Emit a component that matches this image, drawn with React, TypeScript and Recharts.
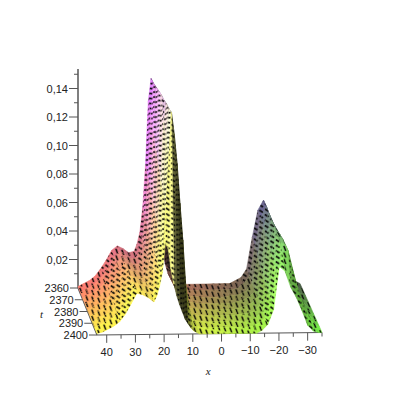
import React from 'react';
import { ScatterChart, Scatter, XAxis, YAxis, ReferenceLine } from 'recharts';

// x columns (denser around the tall ridge)
const xValues = [
  44, 42, 40, 38, 36, 34, 32, 30, 28, 26, 24,
  23, 22, 21, 20, 19, 18, 17, 16, 15, 14, 13, 12, 11, 10,
  8, 6, 4, 2, 0, -2, -4, -6, -8, -10, -12, -14, -16, -18, -20, -22, -24, -26, -28, -30, -32, -34, -35,
];

// surface height per t row, in thousandths
const z2360 = [1, 3, 5, 8, 13, 19, 26, 29, 27, 24, 25, 30, 38, 55, 85, 130, 146, 122, 85, 50, 28, 16, 9, 5, 3, 1, 1, 1, 1, 1, 1, 1, 1, 1, 1, 3, 5, 11, 33, 52, 59, 47, 30, 17, 8, 3, 1, 0];
const z2365 = [1, 3, 5, 8, 12, 18, 25, 29, 27, 24, 24, 29, 37, 52, 80, 122, 146, 127, 90, 55, 31, 18, 10, 6, 3, 1, 1, 1, 1, 1, 1, 1, 1, 1, 1, 2, 5, 10, 30, 50, 59, 48, 31, 18, 8, 3, 1, 0];
const z2370 = [1, 3, 5, 8, 12, 18, 25, 29, 27, 24, 24, 28, 35, 49, 75, 115, 147, 132, 95, 60, 34, 20, 11, 6, 3, 1, 1, 1, 0, 0, 0, 0, 0, 1, 1, 2, 4, 9, 27, 48, 58, 49, 32, 19, 9, 3, 1, 0];
const z2375 = [1, 3, 5, 8, 12, 17, 24, 29, 27, 24, 23, 27, 33, 46, 70, 107, 148, 138, 100, 65, 38, 22, 12, 7, 4, 1, 1, 0, 0, 0, 0, 0, 0, 0, 1, 2, 4, 8, 24, 46, 57, 50, 34, 20, 9, 3, 1, 0];
const z2380 = [1, 3, 5, 7, 11, 17, 24, 29, 27, 24, 23, 27, 32, 44, 65, 100, 149, 145, 106, 70, 42, 25, 14, 8, 4, 1, 1, 0, 0, 0, 0, 0, 0, 0, 1, 2, 4, 8, 22, 44, 56, 51, 36, 21, 10, 4, 1, 0];
const z2385 = [1, 3, 5, 7, 11, 16, 23, 28, 27, 24, 23, 26, 31, 42, 61, 93, 133, 146, 112, 76, 47, 28, 16, 9, 5, 1, 0, 0, 0, 0, 0, 0, 0, 0, 1, 1, 3, 7, 20, 42, 55, 52, 37, 22, 10, 4, 1, 0];
const z2390 = [1, 3, 5, 7, 11, 16, 23, 28, 27, 24, 23, 26, 30, 40, 57, 87, 125, 146, 120, 84, 52, 32, 18, 10, 5, 1, 0, 0, 0, 0, 0, 0, 0, 0, 0, 1, 3, 7, 19, 40, 54, 52, 38, 23, 11, 4, 1, 0];
const z2395 = [1, 3, 5, 7, 10, 15, 22, 28, 27, 24, 22, 25, 29, 38, 53, 80, 115, 147, 132, 112, 85, 60, 30, 15, 7, 1, 0, 0, 0, 0, 0, 0, 0, 0, 0, 1, 3, 6, 18, 36, 50, 52, 36, 22, 11, 4, 1, 0];
const z2400 = [1, 2, 4, 6, 9, 14, 21, 28, 27, 25, 22, 26, 33, 42, 62, 58, 44, 34, 26, 20, 15, 10, 7, 4, 2, 0, 0, 0, 0, 0, 0, 0, 0, 0, 0, 0, 2, 6, 16, 45, 42, 31, 24, 15, 5, 1, 0, 0];

const tValues = [2360, 2365, 2370, 2375, 2380, 2385, 2390, 2395, 2400];
const zRows = [z2360, z2365, z2370, z2375, z2380, z2385, z2390, z2395, z2400];

const xTicks = [40, 35, 30, 25, 20, 15, 10, 5, 0, -5, -10, -15, -20, -25, -30, -35];
const zTicks = [0.01, 0.02, 0.03, 0.04, 0.05, 0.06, 0.07, 0.08, 0.09, 0.1, 0.11, 0.12, 0.13, 0.14, 0.15];
const tTicks = [2360, 2370, 2380, 2390, 2400];

const SIZE = 400;
const X_AXIS_H = 40;
const Y_AXIS_W = 40;
const margin = { top: 69, right: 78, bottom: 25, left: 38 };
const plotW = SIZE - margin.left - margin.right - Y_AXIS_W;
const plotH = SIZE - margin.top - margin.bottom - X_AXIS_H;
const xDomain: [number, number] = [-35, 50];
const zDomain: [number, number] = [-47 / 1425, 219 / 1425];
const pxPerX = plotW / (xDomain[1] - xDomain[0]);
const pxPerZ = plotH / (zDomain[1] - zDomain[0]);

const lerp = (a: number, b: number, f: number) => a + (b - a) * f;

// view of the box: far edge is shorter than the near edge
function project(x: number, t: number, z: number) {
  const f = (t - 2360) / 40;
  const w = (44 - x) / 79;
  const px = lerp(lerp(78, 97, f), lerp(300, 322, f), w);
  const py = lerp(288, 335, f) - w * lerp(4.5, 2.5, f) - z * lerp(1425, 1475, f);
  return { sx: xDomain[1] - (px - 78) / pxPerX, sz: (288 - py) / pxPerZ };
}

function quadColor(x: number, t: number, z: number, slope: number) {
  const xn = (x + 35) / 79;
  const tn = (t - 2360) / 40;
  let r = 70 + 185 * xn + 50 * tn;
  let g = 85 + 165 * tn + 30 * xn * (1 - tn);
  let b = 70 + (z / 0.15) * 180 * (1 - 0.4 * tn) + 40 * xn * (1 - tn);
  const m = slope > 0 ? Math.max(0.25, 1 - slope * 50) : 1 + Math.min(0.2, -slope * 8);
  r = Math.min(255, r * m);
  g = Math.min(255, g * m);
  b = Math.min(255, b * m);
  return `rgb(${Math.round(r)},${Math.round(g)},${Math.round(b)})`;
}

// the dashes of the mesh lean over as the surface gets steeper
function meshPattern(slope: number) {
  const s = Math.abs(slope);
  if (s < 0.0025) return 'url(#meshFlat)';
  if (s < 0.012) return 'url(#meshMid)';
  return 'url(#meshSteep)';
}

const rowPoints = zRows.map((row, i) => row.map((z, j) => project(xValues[j], tValues[i], z / 1000)));

// one point per mesh cell, low x first so the near flank paints last
const cellRows = tValues.slice(0, -1).map((t, i) => {
  const cells = [];
  for (let j = xValues.length - 2; j >= 0; j--) {
    const a = zRows[i][j] / 1000;
    const b = zRows[i][j + 1] / 1000;
    const c = zRows[i + 1][j + 1] / 1000;
    const d = zRows[i + 1][j] / 1000;
    const slope = ((a + d - b - c) / 2) / (xValues[j] - xValues[j + 1]);
    cells.push({
      ...rowPoints[i][j],
      corners: [rowPoints[i][j], rowPoints[i][j + 1], rowPoints[i + 1][j + 1], rowPoints[i + 1][j]],
      fill: quadColor((xValues[j] + xValues[j + 1]) / 2, t + 2.5, (a + b + c + d) / 4, slope),
      mesh: meshPattern(slope),
    });
  }
  return cells;
});

const CellShape = (props: any) => {
  const { cx, cy, payload } = props;
  const pts = payload.corners
    .map((c: any) => `${cx - (c.sx - payload.sx) * pxPerX},${cy - (c.sz - payload.sz) * pxPerZ}`)
    .join(' ');
  return (
    <g>
      <polygon points={pts} fill={payload.fill} stroke={payload.fill} strokeWidth={0.6} />
      <polygon points={pts} fill={payload.mesh} />
    </g>
  );
};

const MeshDefs = () => (
  <defs>
    <pattern id="meshFlat" patternUnits="userSpaceOnUse" width="6" height="6.5" patternTransform="skewY(10)">
      <line x1="1.8" y1="0.8" x2="3.8" y2="5.6" stroke="#050505" strokeWidth="1.6" />
    </pattern>
    <pattern id="meshMid" patternUnits="userSpaceOnUse" width="5.5" height="5.5" patternTransform="skewY(-12)">
      <line x1="0.8" y1="1.2" x2="4.6" y2="4.4" stroke="#050505" strokeWidth="1.6" />
    </pattern>
    <pattern id="meshSteep" patternUnits="userSpaceOnUse" width="4.5" height="5" patternTransform="skewY(-18)">
      <line x1="0.2" y1="1.8" x2="4.2" y2="3.2" stroke="#050505" strokeWidth="1.6" />
    </pattern>
  </defs>
);

const axisColor = '#555';
const labelStyle = { fontFamily: 'Liberation Sans, Arial, sans-serif', fontSize: 11, fill: '#222' };

const XTick = (props: any) => {
  const { x, y, payload } = props;
  const v = payload.value;
  const major = v % 10 === 0;
  const dy = -((44 - v) / 79) * 2.5;
  return (
    <g>
      <line x1={x} x2={x} y1={y + dy} y2={y + dy + (major ? 8 : 4)} stroke={axisColor} />
      {major && (
        <text x={x} y={y + dy + 21} textAnchor="middle" {...labelStyle}>
          {String(v).replace('-', '\u2212')}
        </text>
      )}
    </g>
  );
};

const ZTick = (props: any) => {
  const { x, y, payload } = props;
  const v = payload.value;
  const major = Math.round(v * 100) % 2 === 0;
  return (
    <g>
      <line x1={x} x2={x - (major ? 9 : 4)} y1={y} y2={y} stroke={axisColor} />
      {major && (
        <text x={x - 10} y={y + 4} textAnchor="end" {...labelStyle}>
          {v.toFixed(2).replace('.', ',')}
        </text>
      )}
    </g>
  );
};

const TTick = (props: any) => {
  const { cx, cy, payload } = props;
  return (
    <g>
      <line x1={cx} x2={cx - 8} y1={cy} y2={cy} stroke={axisColor} />
      <text x={cx - 9} y={cy + 4} textAnchor="end" {...labelStyle}>
        {payload.t}
      </text>
    </g>
  );
};

const AxisName = (props: any) => {
  const { cx, cy, payload } = props;
  return (
    <text x={cx + payload.dx} y={cy + payload.dy} textAnchor="middle" fontFamily="Liberation Serif, serif" fontStyle="italic" fontSize={11} fill="#222">
      {payload.name}
    </text>
  );
};

const tTickData = tTicks.map((t) => ({ ...project(44, t, 0), t }));
const tCorner = project(44, 2400, 0);
const xCorner = project(-35, 2400, 0);
const tTop = project(44, 2360, 0);

// axis names hang off a point of the box, data must stay inside the domain
const nameData = [
  { name: 't', ...project(44, 2380, 0), dx: -46, dy: 6 },
  { name: 'x', ...project(5, 2400, 0), dx: 0, dy: 41 },
];

export default function App() {
  return (
    <div style={{ position: 'absolute', left: 0, top: 0, width: SIZE, height: SIZE, background: '#fff' }}>
      <ScatterChart width={SIZE} height={SIZE} margin={margin}>
        <XAxis
          type="number"
          dataKey="sx"
          domain={xDomain}
          reversed
          ticks={xTicks}
          interval={0}
          height={X_AXIS_H}
          axisLine={false}
          tickLine={false}
          tickSize={0}
          tickMargin={0}
          tick={<XTick />}
        />
        <YAxis
          type="number"
          dataKey="sz"
          domain={zDomain}
          ticks={zTicks}
          interval={0}
          width={Y_AXIS_W}
          axisLine={false}
          tickLine={false}
          tickSize={0}
          tickMargin={0}
          tick={<ZTick />}
        />
        <ReferenceLine segment={[{ x: tTop.sx, y: 0 }, { x: tTop.sx, y: zDomain[1] }]} stroke={axisColor} strokeWidth={1.5} ifOverflow="visible" />
        <ReferenceLine segment={[{ x: tTop.sx, y: tTop.sz }, { x: tCorner.sx, y: tCorner.sz }]} stroke={axisColor} strokeWidth={1.2} ifOverflow="visible" />
        <ReferenceLine segment={[{ x: tCorner.sx, y: tCorner.sz }, { x: xCorner.sx, y: xCorner.sz }]} stroke={axisColor} strokeWidth={1.2} ifOverflow="visible" />
        <Scatter data={[tTop]} shape={<MeshDefs />} isAnimationActive={false} />
        <Scatter data={tTickData} shape={<TTick />} isAnimationActive={false} />
        {cellRows.map((cells, i) => (
          <Scatter key={tValues[i]} data={cells} shape={<CellShape />} isAnimationActive={false} />
        ))}
        <Scatter data={nameData} shape={<AxisName />} isAnimationActive={false} />
      </ScatterChart>
    </div>
  );
}
